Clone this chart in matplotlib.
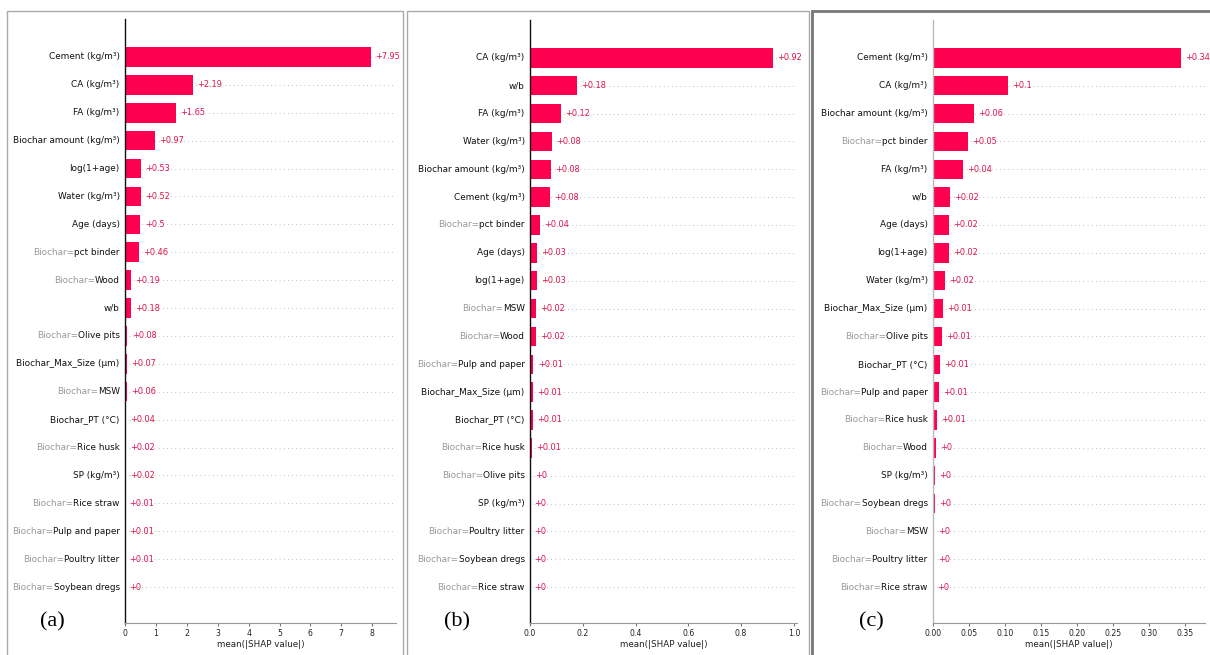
import matplotlib
matplotlib.use("Agg")
import matplotlib.pyplot as plt
from matplotlib.patches import Rectangle
import numpy as np

# mean |SHAP| per feature for the three models
features_a = ["Cement (kg/m³)", "CA (kg/m³)", "FA (kg/m³)", "Biochar amount (kg/m³)",
              "log(1+age)", "Water (kg/m³)", "Age (days)", "Biochar=pct binder",
              "Biochar=Wood", "w/b", "Biochar=Olive pits", "Biochar_Max_Size (µm)",
              "Biochar=MSW", "Biochar_PT (°C)", "Biochar=Rice husk", "SP (kg/m³)",
              "Biochar=Rice straw", "Biochar=Pulp and paper", "Biochar=Poultry litter",
              "Biochar=Soybean dregs"]
values_a = [7.95, 2.19, 1.65, 0.97, 0.53, 0.52, 0.50, 0.46, 0.19, 0.18,
            0.08, 0.07, 0.06, 0.04, 0.02, 0.02, 0.01, 0.01, 0.01, 0.004]

features_b = ["CA (kg/m³)", "w/b", "FA (kg/m³)", "Water (kg/m³)", "Biochar amount (kg/m³)",
              "Cement (kg/m³)", "Biochar=pct binder", "Age (days)", "log(1+age)",
              "Biochar=MSW", "Biochar=Wood", "Biochar=Pulp and paper",
              "Biochar_Max_Size (µm)", "Biochar_PT (°C)", "Biochar=Rice husk",
              "Biochar=Olive pits", "SP (kg/m³)", "Biochar=Poultry litter",
              "Biochar=Soybean dregs", "Biochar=Rice straw"]
values_b = [0.92, 0.178, 0.119, 0.084, 0.081, 0.077, 0.039, 0.028, 0.028, 0.023,
            0.021, 0.013, 0.011, 0.011, 0.006, 0.002, 0.0015, 0.001, 0.001, 0.0005]

features_c = ["Cement (kg/m³)", "CA (kg/m³)", "Biochar amount (kg/m³)", "Biochar=pct binder",
              "FA (kg/m³)", "w/b", "Age (days)", "log(1+age)", "Water (kg/m³)",
              "Biochar_Max_Size (µm)", "Biochar=Olive pits", "Biochar_PT (°C)",
              "Biochar=Pulp and paper", "Biochar=Rice husk", "Biochar=Wood", "SP (kg/m³)",
              "Biochar=Soybean dregs", "Biochar=MSW", "Biochar=Poultry litter",
              "Biochar=Rice straw"]
values_c = [0.344, 0.104, 0.057, 0.048, 0.041, 0.023, 0.022, 0.022, 0.017, 0.014,
            0.013, 0.010, 0.008, 0.006, 0.004, 0.003, 0.0025, 0.0015, 0.001, 0.0005]

xticks_a = [0, 1, 2, 3, 4, 5, 6, 7, 8]
xticks_b = [0.0, 0.2, 0.4, 0.6, 0.8, 1.0]
xticks_c = [0.00, 0.05, 0.10, 0.15, 0.20, 0.25, 0.30, 0.35]

RED = "#ff0051"
W, H = 1210, 655


def fmt(v):
    s = "%+0.02f" % v
    return s.rstrip("0").rstrip(".")


def fx(px):
    return px / W


def fy(py):
    return 1 - py / H


def shap_bar(ax, names, vals, xlim, ticks, tickfmt, spine_col):
    n = len(names)
    ypos = np.arange(n)
    for y in ypos:
        ax.axhline(y, color="#888888", lw=0.5, dashes=(1, 5), zorder=-1)
    ax.barh(ypos, vals, height=0.7, color=RED, zorder=2)
    for y, v in zip(ypos, vals):
        ax.annotate(fmt(v), xy=(v, y), xytext=(3, 0), textcoords="offset points",
                    ha="left", va="center", fontsize=5.9, color="#e0124a")
    for y, name in zip(ypos, names):
        if "=" in name:
            pre, suf = name.split("=", 1)
            t = ax.annotate(suf, xy=(0, y), xycoords=("axes fraction", "data"),
                            xytext=(-3.8, 0), textcoords="offset points",
                            ha="right", va="center", fontsize=6.4, color="#111111")
            ax.annotate(pre + "=", xy=(0, 0.5), xycoords=t, ha="right", va="center",
                        fontsize=6.4, color="#999999")
        else:
            ax.annotate(name, xy=(0, y), xycoords=("axes fraction", "data"),
                        xytext=(-3.8, 0), textcoords="offset points",
                        ha="right", va="center", fontsize=6.4, color="#111111")
    ax.set_ylim(n - 1 + 1.29, -1.36)
    ax.set_xlim(*xlim)
    ax.set_yticks([])
    ax.set_xticks(ticks)
    ax.set_xticklabels([tickfmt % t for t in ticks], fontsize=5.6, color="#222222")
    ax.tick_params(axis="x", length=2.5, width=0.8, color="#777777", pad=2)
    for s in ["top", "right"]:
        ax.spines[s].set_visible(False)
    ax.spines["left"].set_color(spine_col)
    ax.spines["left"].set_linewidth(1.0)
    ax.spines["bottom"].set_color("#999999")
    ax.spines["bottom"].set_linewidth(0.8)
    ax.set_xlabel("mean(|SHAP value|)", fontsize=6.3, color="#222222", labelpad=1.5)


fig = plt.figure(figsize=(W / 100, H / 100), dpi=100)

ax_a = fig.add_axes([fx(125), fy(623), fx(396 - 125), (623 - 19) / H])
ax_b = fig.add_axes([fx(530), fy(623), fx(797 - 530), (623 - 20) / H])
ax_c = fig.add_axes([fx(933), fy(623), fx(1205 - 933), (623 - 20) / H])

shap_bar(ax_a, features_a, values_a, (0, 8.77), xticks_a, "%d", "#111111")
shap_bar(ax_b, features_b, values_b, (0, 1.012), xticks_b, "%.1f", "#111111")
shap_bar(ax_c, features_c, values_c, (0, 0.3775), xticks_c, "%.2f", "#bbbbbb")

# panel frames
frames = [(7, 403, "#aaaaaa", 1.0), (407, 809, "#aaaaaa", 1.0), (812, 1260, "#777777", 2.0)]
for x0, x1, col, lw in frames:
    fig.add_artist(Rectangle((fx(x0), fy(700)), fx(x1 - x0), (700 - 11) / H,
                             transform=fig.transFigure, fill=False, edgecolor=col,
                             lw=lw, clip_on=False))

for lab, px in [("(a)", 52), ("(b)", 457), ("(c)", 871)]:
    fig.text(fx(px), fy(622), lab, ha="center", va="center", fontsize=16,
             family="Liberation Serif")

fig.savefig("out.png", dpi=100)
